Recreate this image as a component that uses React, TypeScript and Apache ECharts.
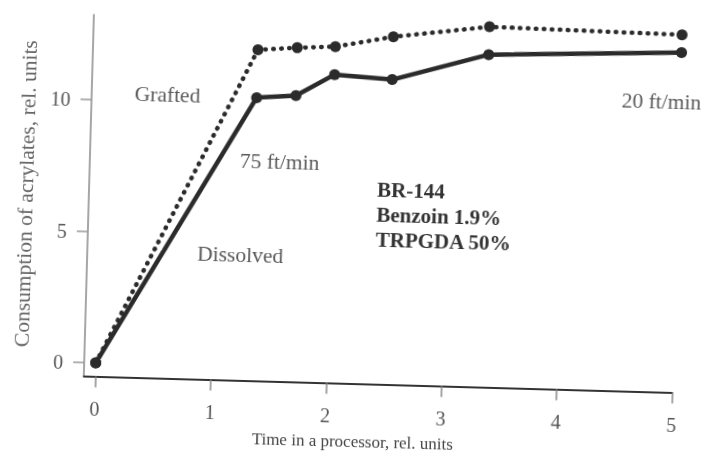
import React, { useEffect, useRef } from "react";
import * as echarts from "echarts";

// Time in processor (rel. units) for speeds 75, 60, 50, 40, 30, 20 ft/min
const times = [0, 1.33, 1.67, 2, 2.5, 3.33, 5];
const grafted = [0, 12.07, 12.19, 12.27, 12.71, 13.19, 13.09];
const dissolved = [0, 10.25, 10.37, 11.21, 11.08, 12.13, 12.41];
const xTicks = [0, 1, 2, 3, 4, 5];
const yTicks = [0, 5, 10];
const annotations = [
  { text: "Grafted", x: 131, y: 100 },
  { text: "75 ft/min", x: 238, y: 164 },
  { text: "Dissolved", x: 198, y: 258 },
  { text: "20 ft/min", x: 618, y: 93 },
];
const recipe = ["BR-144", "Benzoin 1.9%", "TRPGDA 50%"];

const FONT = "'Liberation Serif', 'Times New Roman', serif";

export default function App() {
  const ref = useRef<HTMLDivElement>(null);
  useEffect(() => {
    if (!ref.current) return;
    const chart = echarts.init(ref.current, undefined, { renderer: "svg" });
    const pair = (ys: number[]) => times.map((t, i) => [t, ys[i]]);
    const graphics: any[] = [];
    annotations.forEach((a) => {
      graphics.push({
        type: "text",
        x: a.x,
        y: a.y,
        style: {
          text: a.text,
          font: `21.5px ${FONT}`,
          fill: "#5a5a5a",
          align: "left",
          verticalAlign: "middle",
          textAlign: "left",
          textVerticalAlign: "middle",
        },
      });
    });
    recipe.forEach((t, i) => {
      graphics.push({
        type: "text",
        x: 376,
        y: 189 + i * 25,
        style: {
          text: t,
          font: `bold 21px ${FONT}`,
          fill: "#333333",
          align: "left",
          verticalAlign: "middle",
          textAlign: "left",
          textVerticalAlign: "middle",
        },
      });
    });
    chart.setOption({
      animation: false,
      backgroundColor: "#ffffff",
      grid: { left: 88, top: 22, width: 588.5, height: 361.5 },
      xAxis: {
        type: "value",
        min: -0.1,
        max: 5,
        splitLine: { show: false },
        axisLine: { onZero: false, lineStyle: { color: "#333", width: 2 } },
        axisTick: {
          show: true,
          length: 11,
          customValues: xTicks,
          lineStyle: { color: "#888", width: 1.5 },
        },
        axisLabel: {
          customValues: xTicks,
          margin: 22,
          fontFamily: FONT,
          fontSize: 20,
          color: "#555",
        },
        name: "Time in a processor, rel. units",
        nameLocation: "middle",
        nameGap: 49,
        nameTextStyle: {
          fontFamily: FONT,
          fontSize: 17,
          color: "#444",
          padding: [0, 48, 0, 0],
        },
      },
      yAxis: {
        type: "value",
        min: -0.51,
        max: 13.23,
        splitLine: { show: false },
        axisLine: { onZero: false, lineStyle: { color: "#888", width: 1.5 } },
        axisTick: {
          show: true,
          length: 11,
          customValues: yTicks,
          lineStyle: { color: "#999", width: 1.5 },
        },
        axisLabel: {
          customValues: yTicks,
          margin: 21,
          fontFamily: FONT,
          fontSize: 20,
          color: "#555",
        },
        name: "Consumption of acrylates, rel. units",
        nameLocation: "middle",
        nameGap: 51,
        nameTextStyle: { fontFamily: FONT, fontSize: 21.5, color: "#666" },
      },
      graphic: graphics,
      series: [
        {
          name: "Grafted",
          type: "line",
          data: pair(grafted),
          clip: false,
          symbol: "circle",
          symbolSize: 11,
          itemStyle: { color: "#2b2b2b" },
          lineStyle: { color: "#2b2b2b", width: 4.5, type: [0.5, 7.5], cap: "round" },
        },
        {
          name: "Dissolved",
          type: "line",
          data: pair(dissolved),
          clip: false,
          symbol: "circle",
          symbolSize: 11,
          itemStyle: { color: "#2b2b2b" },
          lineStyle: { color: "#2b2b2b", width: 4.5, type: "solid" },
        },
      ],
    });
    return () => chart.dispose();
  }, []);
  return (
    <div
      style={{
        position: "fixed",
        left: 0,
        top: 0,
        width: 707,
        height: 459,
        background: "#fff",
        transform: "rotate(1.6deg)",
        transformOrigin: "353.5px 229.5px",
      }}
    >
      <div ref={ref} style={{ width: 707, height: 459 }} />
    </div>
  );
}
